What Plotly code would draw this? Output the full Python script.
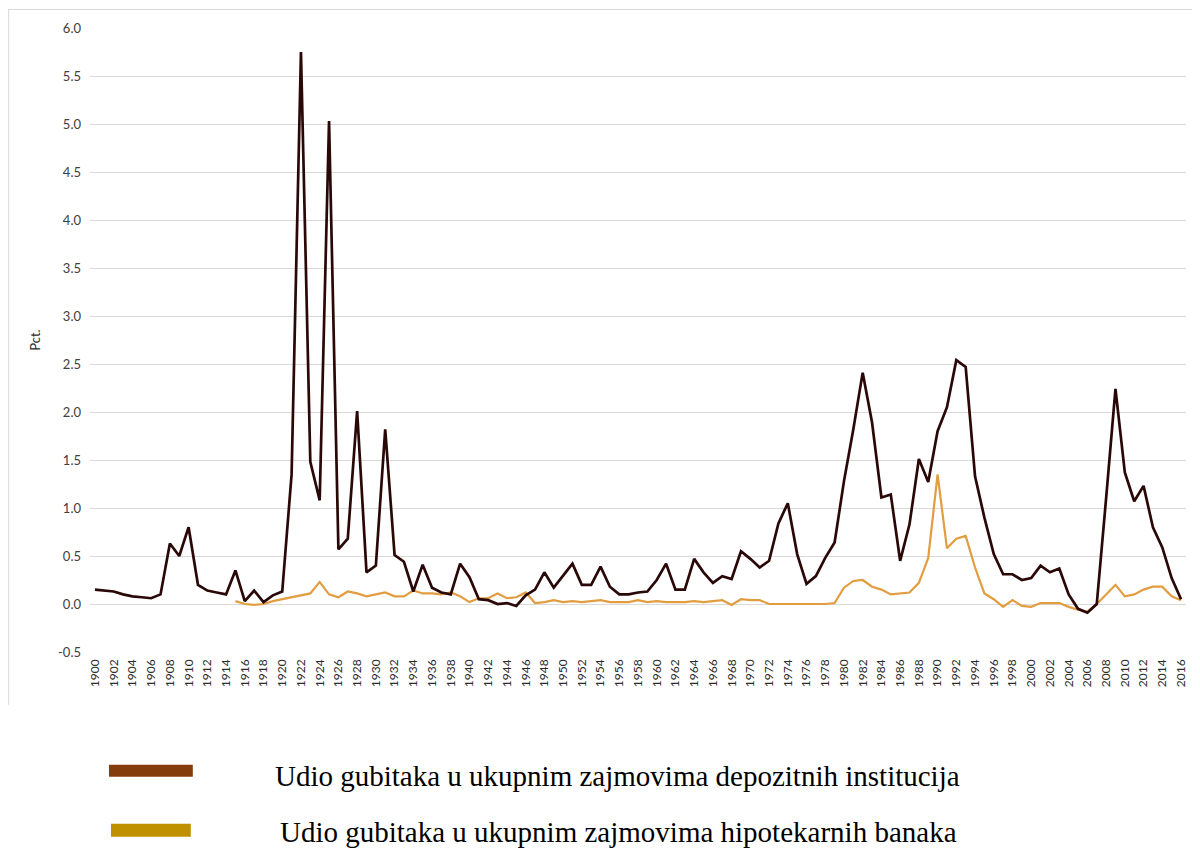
import plotly.graph_objects as go

years = list(range(1900, 2017))

deposit = [
    0.15, 0.14, 0.13, 0.10, 0.08, 0.07, 0.06, 0.10, 0.63, 0.50,  # 1900-1909
    0.80, 0.20, 0.14, 0.12, 0.10, 0.35, 0.03, 0.14, 0.02, 0.09,  # 1910-1919
    0.13, 1.35, 5.75, 1.48, 1.08, 5.03, 0.57, 0.68, 2.01, 0.33,  # 1920-1929
    0.40, 1.82, 0.51, 0.44, 0.13, 0.41, 0.17, 0.12, 0.10, 0.42,  # 1930-1939
    0.28, 0.05, 0.04, 0.00, 0.01, -0.02, 0.09, 0.15, 0.33, 0.17,  # 1940-1949
    0.30, 0.42, 0.20, 0.20, 0.39, 0.18, 0.10, 0.10, 0.12, 0.13,  # 1950-1959
    0.25, 0.42, 0.15, 0.15, 0.47, 0.33, 0.22, 0.29, 0.26, 0.55,  # 1960-1969
    0.47, 0.38, 0.45, 0.84, 1.05, 0.52, 0.21, 0.29, 0.48, 0.64,  # 1970-1979
    1.28, 1.82, 2.41, 1.89, 1.11, 1.14, 0.45, 0.83, 1.51, 1.27,  # 1980-1989
    1.80, 2.05, 2.54, 2.47, 1.33, 0.90, 0.52, 0.31, 0.31, 0.25,  # 1990-1999
    0.27, 0.40, 0.33, 0.37, 0.10, -0.05, -0.09, 0.00, 1.10, 2.24,  # 2000-2009
    1.37, 1.07, 1.23, 0.80, 0.59, 0.27, 0.05,                    # 2010-2016
]

mortgage_years = list(range(1915, 2017))
mortgage = [
    0.03, 0.00, -0.01, 0.00, 0.03,                               # 1915-1919
    0.05, 0.07, 0.09, 0.11, 0.23, 0.10, 0.07, 0.13, 0.11, 0.08,  # 1920-1929
    0.10, 0.12, 0.08, 0.08, 0.14, 0.11, 0.11, 0.10, 0.12, 0.08,  # 1930-1939
    0.02, 0.06, 0.06, 0.11, 0.06, 0.07, 0.12, 0.01, 0.02, 0.04,  # 1940-1949
    0.02, 0.03, 0.02, 0.03, 0.04, 0.02, 0.02, 0.02, 0.04, 0.02,  # 1950-1959
    0.03, 0.02, 0.02, 0.02, 0.03, 0.02, 0.03, 0.04, -0.01, 0.05,  # 1960-1969
    0.04, 0.04, 0.00, 0.00, 0.00, 0.00, 0.00, 0.00, 0.00, 0.01,  # 1970-1979
    0.17, 0.24, 0.25, 0.18, 0.15, 0.10, 0.11, 0.12, 0.22, 0.48,  # 1980-1989
    1.35, 0.58, 0.68, 0.71, 0.38, 0.11, 0.05, -0.03, 0.04, -0.02,  # 1990-1999
    -0.03, 0.01, 0.01, 0.01, -0.03, -0.06, -0.08, 0.00, 0.10, 0.20,  # 2000-2009
    0.08, 0.10, 0.15, 0.18, 0.18, 0.08, 0.04,                    # 2010-2016
]

x_ticks = list(range(1900, 2017, 2))
y_ticks = [-0.5, 0.0, 0.5, 1.0, 1.5, 2.0, 2.5, 3.0, 3.5, 4.0, 4.5, 5.0, 5.5, 6.0]

legend_labels = [
    "Udio gubitaka u ukupnim zajmovima depozitnih institucija",
    "Udio gubitaka u ukupnim zajmovima hipotekarnih banaka",
]
legend_colors = ["#843C0C", "#BF9000"]

W, H = 1192, 840
L, R, T, B = 82, 12, 19, 196
PW, PH = W - L - R, H - T - B


def px(fx):
    return (fx - L) / PW


def py(fy):
    return (H - B - fy) / PH


fig = go.Figure()
fig.add_trace(go.Scatter(x=mortgage_years, y=mortgage, mode="lines",
                         line=dict(color="#E29D40", width=2.2), showlegend=False))
fig.add_trace(go.Scatter(x=years, y=deposit, mode="lines",
                         line=dict(color="#2A0808", width=2.7), showlegend=False))

fig.update_layout(
    width=W, height=H,
    paper_bgcolor="white", plot_bgcolor="white",
    margin=dict(l=L, r=R, t=T, b=B),
    showlegend=False,
    font=dict(family="Lato, 'Open Sans', sans-serif", color="#404040"),
)
fig.update_xaxes(
    range=[1899.467, 2016.533], tickmode="array", tickvals=x_ticks,
    ticktext=[str(v) for v in x_ticks], tickangle=-90,
    tickfont=dict(size=12, color="#2b2b2b"), showgrid=False, zeroline=False,
    showline=False, ticks="", ticklabelstandoff=4,
)
fig.update_yaxes(
    range=[-0.5, 6.0], tickmode="array", tickvals=y_ticks,
    ticktext=[f"{v:.1f}" for v in y_ticks],
    tickfont=dict(size=13, color="#404040"), showgrid=True, gridcolor="#D9D9D9",
    gridwidth=1, zeroline=False, showline=False, ticks="", ticklabelstandoff=8,
    title=dict(text="Pct.", font=dict(size=13, color="#2b2b2b"), standoff=14),
)

# chart-area border (top and left edges)
fig.add_shape(type="line", xref="paper", yref="paper",
              x0=px(0), x1=px(W), y0=py(0.5), y1=py(0.5),
              line=dict(color="#D9D9D9", width=1))
fig.add_shape(type="line", xref="paper", yref="paper",
              x0=px(0.5), x1=px(0.5), y0=py(0), y1=py(697),
              line=dict(color="#D9D9D9", width=1))

# legend below the chart
rects = [(101, 185, 757, 769), (103, 183, 816, 829)]
text_pos = [(265, 768), (270, 824)]
for lab, col, (x0, x1, y0, y1), (tx, ty) in zip(legend_labels, legend_colors, rects, text_pos):
    fig.add_shape(type="rect", xref="paper", yref="paper",
                  x0=px(x0), x1=px(x1), y0=py(y1), y1=py(y0),
                  line=dict(width=0), fillcolor=col)
    fig.add_annotation(xref="paper", yref="paper", x=px(tx), y=py(ty),
                       text=lab, showarrow=False, xanchor="left", yanchor="middle",
                       font=dict(family="Liberation Serif, serif", size=29, color="#000000"))

fig.write_html("out.html")
